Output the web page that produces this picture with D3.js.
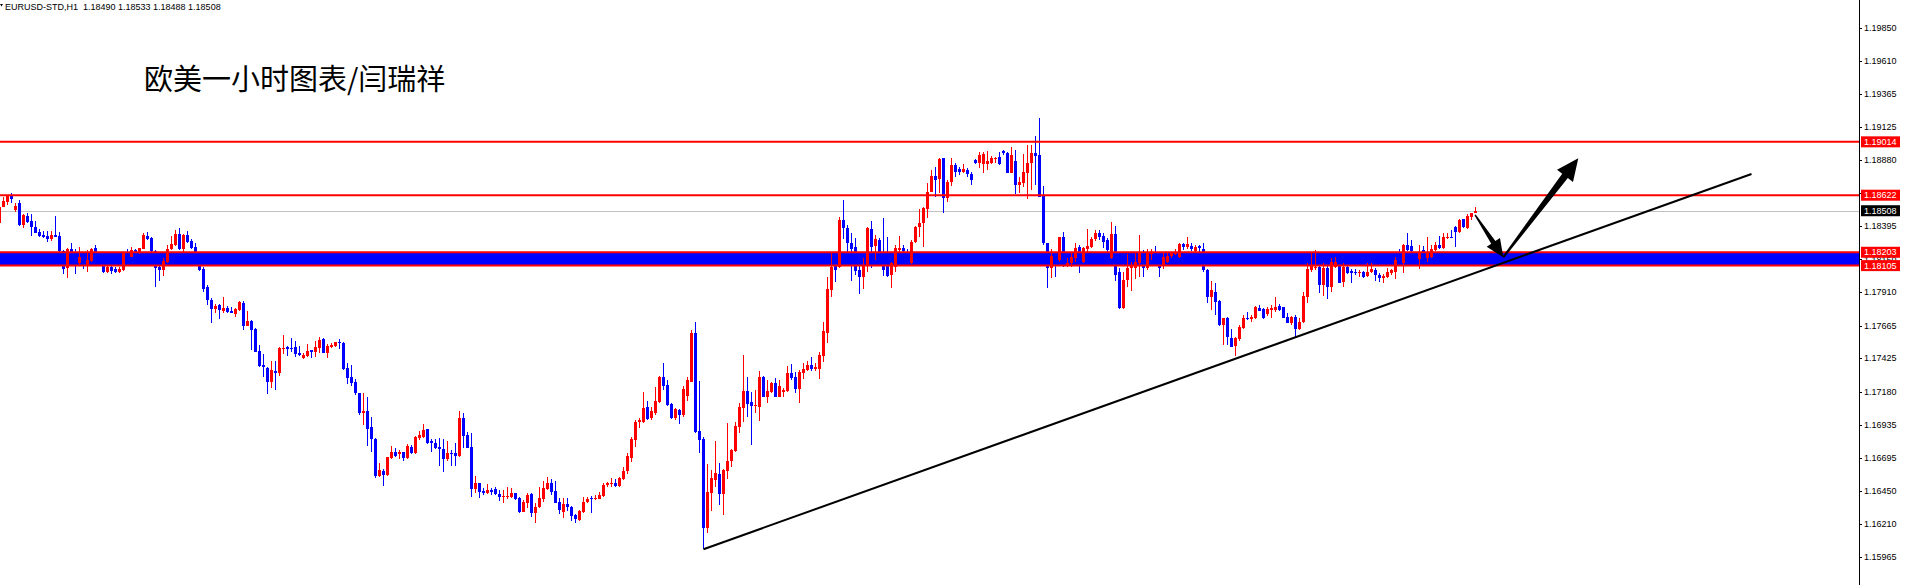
<!DOCTYPE html>
<html><head><meta charset="utf-8">
<script src="https://cdn.jsdelivr.net/npm/d3@7"></script>
<style>html,body{margin:0;padding:0;background:#fff;overflow:hidden}</style>
</head><body><svg id="c" width="1906" height="585"></svg>
<script>
const symbolInfo = "EURUSD-STD,H1";
const headerOHLC = ["1.18490", "1.18533", "1.18488", "1.18508"];
const titleText = "欧美一小时图表/闫瑞祥";
const tickLabels = ["1.19850","1.19610","1.19365","1.19125","1.18880","1.18640","1.18395","1.18150","1.17910","1.17665","1.17425","1.17180","1.16935","1.16695","1.16450","1.16210","1.15965"];
const resistanceLevels = [1.19014, 1.18622];
const zoneLevels = [1.18203, 1.18105];
const bidPrice = 1.18508;
const trendLine = [{i: 176, p: 1.16022}, {i: 438, p: 1.18778}];
const arrowDown = [{i: 368.9, p: 1.18477}, {i: 375.95, p: 1.18166}];
const arrowUp = [{i: 375.95, p: 1.18166}, {i: 394.7, p: 1.18893}];

const open = [
1.18420,1.18538,1.18575,1.18616,1.18513,1.18567,1.18403,1.18469,1.18433,1.18386,
1.18352,1.18330,1.18322,1.18300,1.18330,1.18322,1.18212,1.18090,1.18224,1.18171,
1.18122,1.18158,1.18105,1.18141,1.18232,1.18171,1.18109,1.18056,1.18092,1.18078,
1.18058,1.18073,1.18207,1.18171,1.18220,1.18195,1.18229,1.18322,1.18308,1.18212,
1.18092,1.18073,1.18129,1.18224,1.18256,1.18337,1.18227,1.18330,1.18288,1.18242,
1.18195,1.18083,1.17950,1.17852,1.17786,1.17813,1.17772,1.17794,1.17772,1.17750,
1.17781,1.17833,1.17664,1.17698,1.17639,1.17478,1.17375,1.17355,1.17253,1.17333,
1.17319,1.17495,1.17510,1.17500,1.17507,1.17463,1.17426,1.17444,1.17483,1.17471,
1.17502,1.17566,1.17466,1.17510,1.17515,1.17544,1.17539,1.17355,1.17289,1.17250,
1.17167,1.17022,1.17037,1.16922,1.16834,1.16562,1.16597,1.16567,1.16690,1.16736,
1.16721,1.16736,1.16690,1.16775,1.16731,1.16836,1.16849,1.16903,1.16814,1.16805,
1.16773,1.16758,1.16682,1.16729,1.16731,1.16709,1.16988,1.16861,1.16775,1.16462,
1.16506,1.16450,1.16433,1.16457,1.16465,1.16428,1.16408,1.16408,1.16403,1.16433,
1.16396,1.16298,1.16360,1.16426,1.16291,1.16330,1.16394,1.16465,1.16506,1.16450,
1.16369,1.16298,1.16352,1.16335,1.16274,1.16237,1.16298,1.16372,1.16399,1.16389,
1.16394,1.16413,1.16494,1.16502,1.16506,1.16487,1.16538,1.16597,1.16695,1.16825,
1.16959,1.16959,1.17069,1.16984,1.17025,1.17106,1.17290,1.17228,1.17089,1.16984,
1.17045,1.17008,1.17150,1.17253,1.17608,1.16893,1.16830,1.16176,1.16433,1.16531,
1.16575,1.16428,1.16599,1.16670,1.16744,1.16918,1.17062,1.17185,1.17101,1.17077,
1.17069,1.17290,1.17143,1.17177,1.17241,1.17143,1.17180,1.17187,1.17314,1.17290,
1.17199,1.17314,1.17339,1.17375,1.17344,1.17344,1.17442,1.17613,1.17926,1.18147,
1.18098,1.18440,1.18379,1.18274,1.18244,1.18073,1.18024,1.18110,1.18372,1.18249,
1.18293,1.18196,1.18110,1.18036,1.18098,1.18220,1.18232,1.18208,1.18122,1.18281,
1.18391,1.18416,1.18519,1.18648,1.18763,1.18739,1.18893,1.18599,1.18717,1.18844,
1.18815,1.18795,1.18808,1.18778,1.18879,1.18861,1.18852,1.18852,1.18861,1.18886,
1.18901,1.18950,1.18930,1.18788,1.18876,1.18697,1.18714,1.18783,1.18856,1.18935,
1.18918,1.18616,1.18269,1.18085,1.18159,1.18147,1.18318,1.18110,1.18122,1.18159,
1.18244,1.18134,1.18225,1.18244,1.18298,1.18342,1.18323,1.18293,1.18159,1.18337,
1.18061,1.17792,1.18000,1.18085,1.18085,1.18122,1.18134,1.18085,1.18191,1.18171,
1.18110,1.18110,1.18134,1.18178,1.18191,1.18166,1.18264,1.18240,1.18249,1.18215,
1.18249,1.18225,1.18073,1.17877,1.17914,1.17845,1.17669,1.17718,1.17571,1.17515,
1.17564,1.17645,1.17723,1.17711,1.17718,1.17796,1.17787,1.17748,1.17779,1.17779,
1.17811,1.17799,1.17725,1.17686,1.17730,1.17637,1.17694,1.17877,1.18073,1.18085,
1.18098,1.17963,1.18085,1.17951,1.18098,1.18122,1.17987,1.18098,1.18066,1.18061,
1.18049,1.18061,1.18029,1.18061,1.18073,1.18036,1.18012,1.18024,1.18054,1.18061,
1.18208,1.18122,1.18257,1.18250,1.18196,1.18152,1.18220,1.18159,1.18171,1.18220,
1.18257,1.18233,1.18313,1.18318,1.18392,1.18355,1.18446,1.18379,1.18465,1.18490];

const high = [
1.18550,1.18611,1.18623,1.18641,1.18562,1.18587,1.18482,1.18494,1.18484,1.18435,
1.18371,1.18359,1.18359,1.18359,1.18469,1.18352,1.18220,1.18232,1.18269,1.18227,
1.18242,1.18183,1.18220,1.18237,1.18256,1.18195,1.18134,1.18109,1.18109,1.18097,
1.18097,1.18207,1.18224,1.18244,1.18229,1.18237,1.18342,1.18354,1.18313,1.18220,
1.18109,1.18158,1.18256,1.18322,1.18367,1.18381,1.18337,1.18362,1.18298,1.18269,
1.18207,1.18097,1.17963,1.17865,1.17823,1.17823,1.17874,1.17808,1.17803,1.17794,
1.17845,1.17848,1.17772,1.17706,1.17644,1.17522,1.17456,1.17363,1.17407,1.17407,
1.17510,1.17595,1.17515,1.17576,1.17551,1.17515,1.17461,1.17529,1.17485,1.17554,
1.17578,1.17576,1.17527,1.17539,1.17546,1.17564,1.17546,1.17392,1.17375,1.17270,
1.17172,1.17167,1.17142,1.16996,1.16841,1.16653,1.16611,1.16702,1.16780,1.16768,
1.16751,1.16739,1.16792,1.16787,1.16856,1.16893,1.16942,1.16907,1.16829,1.16829,
1.16841,1.16834,1.16817,1.16751,1.16800,1.17037,1.17025,1.16885,1.16878,1.16560,
1.16511,1.16470,1.16499,1.16474,1.16482,1.16457,1.16457,1.16477,1.16470,1.16438,
1.16403,1.16384,1.16433,1.16433,1.16360,1.16482,1.16526,1.16550,1.16536,1.16526,
1.16396,1.16396,1.16396,1.16340,1.16281,1.16311,1.16403,1.16403,1.16413,1.16421,
1.16445,1.16511,1.16519,1.16543,1.16536,1.16555,1.16624,1.16727,1.16849,1.16972,
1.16984,1.17180,1.17114,1.17069,1.17216,1.17295,1.17388,1.17265,1.17094,1.17057,
1.17052,1.17224,1.17290,1.17632,1.17689,1.17258,1.16849,1.16646,1.16604,1.16817,
1.16653,1.16612,1.16952,1.16759,1.16959,1.17094,1.17449,1.17285,1.17180,1.17192,
1.17331,1.17295,1.17265,1.17253,1.17277,1.17265,1.17209,1.17368,1.17383,1.17326,
1.17339,1.17392,1.17407,1.17437,1.17388,1.17473,1.17694,1.18019,1.18196,1.18171,
1.18465,1.18587,1.18404,1.18342,1.18310,1.18122,1.18159,1.18391,1.18435,1.18330,
1.18306,1.18457,1.18318,1.18134,1.18257,1.18325,1.18257,1.18225,1.18293,1.18396,
1.18521,1.18533,1.18715,1.18808,1.18827,1.18898,1.18898,1.18734,1.18893,1.18861,
1.18832,1.18852,1.18825,1.18795,1.18886,1.18937,1.18942,1.18947,1.18910,1.18905,
1.18937,1.18954,1.18942,1.18979,1.18954,1.18754,1.18923,1.18991,1.18991,1.19060,
1.19187,1.18690,1.18274,1.18225,1.18196,1.18318,1.18355,1.18159,1.18200,1.18269,
1.18257,1.18244,1.18372,1.18318,1.18367,1.18367,1.18347,1.18306,1.18423,1.18396,
1.18085,1.18061,1.18191,1.18134,1.18196,1.18330,1.18220,1.18227,1.18227,1.18249,
1.18147,1.18196,1.18196,1.18200,1.18225,1.18274,1.18274,1.18318,1.18274,1.18257,
1.18257,1.18269,1.18078,1.17992,1.17975,1.17853,1.17723,1.17725,1.17637,1.17583,
1.17669,1.17743,1.17767,1.17743,1.17809,1.17816,1.17792,1.17799,1.17816,1.17872,
1.17823,1.17804,1.17755,1.17738,1.17743,1.17723,1.17914,1.18122,1.18196,1.18220,
1.18122,1.18122,1.18127,1.18159,1.18171,1.18147,1.18127,1.18110,1.18078,1.18080,
1.18073,1.18068,1.18122,1.18122,1.18085,1.18049,1.18044,1.18085,1.18078,1.18171,
1.18225,1.18264,1.18343,1.18294,1.18208,1.18257,1.18250,1.18313,1.18257,1.18282,
1.18323,1.18348,1.18343,1.18367,1.18397,1.18446,1.18450,1.18485,1.18495,1.18533];

const low = [
1.18415,1.18533,1.18550,1.18567,1.18499,1.18396,1.18384,1.18420,1.18322,1.18342,
1.18313,1.18308,1.18281,1.18288,1.18313,1.18207,1.18043,1.18014,1.18146,1.18043,
1.18102,1.18080,1.18060,1.18134,1.18158,1.18109,1.18053,1.18048,1.18043,1.18053,
1.18053,1.18065,1.18171,1.18166,1.18195,1.18190,1.18224,1.18293,1.18205,1.17950,
1.17994,1.18031,1.18122,1.18220,1.18249,1.18220,1.18195,1.18273,1.18224,1.18183,
1.18068,1.17914,1.17816,1.17686,1.17759,1.17715,1.17759,1.17759,1.17755,1.17730,
1.17774,1.17632,1.17661,1.17485,1.17468,1.17358,1.17289,1.17162,1.17204,1.17191,
1.17297,1.17453,1.17444,1.17471,1.17436,1.17441,1.17417,1.17431,1.17426,1.17431,
1.17466,1.17461,1.17429,1.17497,1.17510,1.17493,1.17338,1.17235,1.17221,1.17155,
1.17008,1.16934,1.16783,1.16739,1.16543,1.16555,1.16489,1.16560,1.16682,1.16697,
1.16682,1.16673,1.16682,1.16721,1.16721,1.16824,1.16836,1.16795,1.16739,1.16756,
1.16636,1.16592,1.16673,1.16636,1.16636,1.16697,1.16763,1.16763,1.16408,1.16437,
1.16396,1.16421,1.16428,1.16421,1.16421,1.16379,1.16364,1.16389,1.16396,1.16384,
1.16291,1.16293,1.16328,1.16262,1.16218,1.16323,1.16372,1.16457,1.16421,1.16360,
1.16281,1.16249,1.16306,1.16232,1.16218,1.16232,1.16291,1.16364,1.16291,1.16384,
1.16389,1.16403,1.16482,1.16482,1.16482,1.16482,1.16531,1.16575,1.16661,1.16776,
1.16910,1.16952,1.16972,1.16972,1.17008,1.17094,1.17192,1.17074,1.16980,1.16972,
1.16942,1.16996,1.17114,1.17248,1.16874,1.16732,1.16022,1.16144,1.16306,1.16482,
1.16347,1.16274,1.16538,1.16624,1.16739,1.16874,1.16959,1.16991,1.16788,1.17020,
1.16964,1.17138,1.17094,1.17167,1.17138,1.17138,1.17143,1.17180,1.17265,1.17172,
1.17099,1.17270,1.17334,1.17334,1.17334,1.17270,1.17400,1.17535,1.17877,1.17987,
1.18085,1.18298,1.18208,1.17995,1.18034,1.17897,1.17934,1.18061,1.18085,1.18147,
1.18171,1.18031,1.18024,1.17943,1.18061,1.18196,1.18183,1.18159,1.18115,1.18269,
1.18318,1.18244,1.18453,1.18644,1.18607,1.18636,1.18494,1.18575,1.18692,1.18754,
1.18771,1.18783,1.18754,1.18697,1.18852,1.18820,1.18783,1.18808,1.18852,1.18861,
1.18844,1.18918,1.18783,1.18783,1.18631,1.18636,1.18685,1.18592,1.18661,1.18697,
1.18607,1.18257,1.17943,1.18017,1.18019,1.18134,1.18098,1.18098,1.18093,1.18134,
1.18053,1.18127,1.18208,1.18232,1.18288,1.18293,1.18232,1.18196,1.18151,1.17995,
1.17785,1.17785,1.17951,1.17921,1.18004,1.18024,1.18019,1.18073,1.18147,1.18155,
1.18019,1.18078,1.18122,1.18159,1.18183,1.18159,1.18220,1.18225,1.18215,1.18208,
1.18208,1.18061,1.17828,1.17779,1.17743,1.17662,1.17522,1.17522,1.17505,1.17444,
1.17554,1.17637,1.17706,1.17694,1.17713,1.17772,1.17711,1.17735,1.17718,1.17767,
1.17774,1.17718,1.17681,1.17669,1.17571,1.17632,1.17681,1.17828,1.18061,1.18073,
1.17902,1.17885,1.17860,1.17914,1.18085,1.17975,1.17951,1.18044,1.17980,1.18036,
1.18019,1.18017,1.18024,1.18049,1.17995,1.17987,1.17980,1.18012,1.18037,1.18005,
1.18103,1.18054,1.18215,1.18208,1.18147,1.18078,1.18196,1.18135,1.18159,1.18215,
1.18228,1.18225,1.18299,1.18306,1.18245,1.18348,1.18379,1.18372,1.18441,1.18488];

const close = [
1.18538,1.18579,1.18616,1.18594,1.18545,1.18403,1.18477,1.18428,1.18386,1.18347,
1.18322,1.18315,1.18300,1.18330,1.18317,1.18212,1.18083,1.18227,1.18171,1.18109,
1.18166,1.18102,1.18146,1.18224,1.18171,1.18122,1.18060,1.18092,1.18068,1.18060,
1.18080,1.18200,1.18183,1.18220,1.18205,1.18232,1.18330,1.18298,1.18210,1.18085,
1.18073,1.18139,1.18227,1.18264,1.18337,1.18227,1.18330,1.18281,1.18232,1.18195,
1.18073,1.17936,1.17852,1.17786,1.17811,1.17779,1.17791,1.17767,1.17759,1.17784,
1.17835,1.17661,1.17698,1.17632,1.17473,1.17368,1.17358,1.17253,1.17338,1.17319,
1.17500,1.17500,1.17495,1.17490,1.17456,1.17449,1.17451,1.17478,1.17473,1.17507,
1.17559,1.17466,1.17517,1.17522,1.17542,1.17534,1.17346,1.17277,1.17245,1.17167,
1.17025,1.17037,1.16905,1.16832,1.16562,1.16604,1.16567,1.16697,1.16739,1.16707,
1.16739,1.16690,1.16783,1.16731,1.16844,1.16861,1.16898,1.16802,1.16800,1.16768,
1.16756,1.16682,1.16726,1.16719,1.16709,1.16986,1.16856,1.16768,1.16462,1.16511,
1.16445,1.16433,1.16457,1.16445,1.16426,1.16408,1.16413,1.16413,1.16433,1.16389,
1.16296,1.16367,1.16421,1.16291,1.16330,1.16401,1.16470,1.16511,1.16440,1.16364,
1.16311,1.16355,1.16330,1.16267,1.16242,1.16303,1.16372,1.16389,1.16389,1.16401,
1.16421,1.16494,1.16506,1.16506,1.16487,1.16543,1.16599,1.16710,1.16830,1.16959,
1.16972,1.17057,1.16976,1.17040,1.17111,1.17290,1.17224,1.17082,1.16984,1.17050,
1.17008,1.17199,1.17265,1.17608,1.16881,1.16825,1.16176,1.16440,1.16543,1.16580,
1.16428,1.16604,1.16670,1.16751,1.16927,1.17069,1.17185,1.17089,1.17077,1.17084,
1.17290,1.17143,1.17185,1.17246,1.17143,1.17221,1.17192,1.17314,1.17277,1.17199,
1.17326,1.17344,1.17375,1.17344,1.17358,1.17449,1.17625,1.17934,1.18098,1.18073,
1.18440,1.18379,1.18269,1.18225,1.18068,1.18024,1.18110,1.18379,1.18244,1.18301,
1.18196,1.18073,1.18031,1.18122,1.18232,1.18232,1.18215,1.18183,1.18281,1.18391,
1.18416,1.18526,1.18644,1.18763,1.18734,1.18888,1.18599,1.18717,1.18844,1.18795,
1.18795,1.18812,1.18776,1.18734,1.18861,1.18918,1.18923,1.18876,1.18893,1.18898,
1.18852,1.18935,1.18788,1.18918,1.18697,1.18722,1.18790,1.18861,1.18930,1.18910,
1.18612,1.18269,1.18085,1.18178,1.18110,1.18313,1.18196,1.18122,1.18166,1.18232,
1.18196,1.18232,1.18249,1.18301,1.18342,1.18318,1.18281,1.18220,1.18337,1.18036,
1.17792,1.18000,1.18085,1.18102,1.18134,1.18200,1.18085,1.18196,1.18208,1.18159,
1.18085,1.18171,1.18178,1.18196,1.18200,1.18264,1.18240,1.18264,1.18225,1.18244,
1.18232,1.18073,1.17877,1.17926,1.17840,1.17669,1.17718,1.17579,1.17510,1.17571,
1.17652,1.17718,1.17713,1.17730,1.17799,1.17774,1.17718,1.17787,1.17792,1.17804,
1.17779,1.17723,1.17686,1.17730,1.17640,1.17689,1.17882,1.18078,1.18110,1.18098,
1.17963,1.18085,1.17951,1.18134,1.18134,1.17980,1.18098,1.18049,1.18049,1.18049,
1.18061,1.18024,1.18061,1.18080,1.18036,1.18012,1.18029,1.18061,1.18073,1.18147,
1.18171,1.18257,1.18220,1.18215,1.18159,1.18201,1.18201,1.18201,1.18225,1.18257,
1.18233,1.18318,1.18318,1.18313,1.18355,1.18441,1.18387,1.18470,1.18490,1.18508];

const UP = "#ff0000", DOWN = "#0000ff";
const W = 1906, H = 585, AXIS_X = 1859;
const svg = d3.select("#c");
const n = close.length;
const x = d3.scaleLinear().domain([0, n - 1]).range([-0.5, -0.5 + 4 * (n - 1)]);
const y = d3.scaleLinear().domain([1.15965, 1.19850]).range([557, 28]);
const FONT = "'Liberation Sans', Arial, sans-serif";

svg.append("rect").attr("width", W).attr("height", H).attr("fill", "#fff");

// zone (background)
svg.append("rect").attr("x", 0).attr("width", AXIS_X)
  .attr("y", y(zoneLevels[0])).attr("height", y(zoneLevels[1]) - y(zoneLevels[0]))
  .attr("fill", DOWN);

// bid line
svg.append("line").attr("x1", 0).attr("x2", AXIS_X)
  .attr("y1", Math.round(y(bidPrice)) + 0.5).attr("y2", Math.round(y(bidPrice)) + 0.5)
  .attr("stroke", "#c0c0c0").attr("stroke-width", 1);

// candles
const idx = d3.range(n);
const g = svg.append("g").attr("shape-rendering", "crispEdges");
g.selectAll(".wick").data(idx).join("rect")
  .attr("x", i => x(i) - 0.5).attr("width", 1)
  .attr("y", i => y(high[i])).attr("height", i => Math.max(1, y(low[i]) - y(high[i])))
  .attr("fill", i => close[i] >= open[i] ? UP : DOWN);
g.selectAll(".body").data(idx).join("rect")
  .attr("x", i => x(i) - 1.5).attr("width", 3)
  .attr("y", i => y(Math.max(open[i], close[i])))
  .attr("height", i => Math.max(1, Math.abs(y(open[i]) - y(close[i]))))
  .attr("fill", i => close[i] >= open[i] ? UP : DOWN);

// red level lines
[...resistanceLevels, ...zoneLevels].forEach(p => {
  svg.append("line").attr("x1", 0).attr("x2", AXIS_X)
    .attr("y1", y(p)).attr("y2", y(p))
    .attr("stroke", UP).attr("stroke-width", 2);
});

// trend line
svg.append("line")
  .attr("x1", x(trendLine[0].i)).attr("y1", y(trendLine[0].p))
  .attr("x2", x(trendLine[1].i)).attr("y2", y(trendLine[1].p))
  .attr("stroke", "#000").attr("stroke-width", 2);

// arrows
function arrowPoly(a, b, w0, w1, headLen, headHalf) {
  const p0 = [x(a.i), y(a.p)], p1 = [x(b.i), y(b.p)];
  const dx = p1[0] - p0[0], dy = p1[1] - p0[1], L = Math.hypot(dx, dy);
  const u = [dx / L, dy / L], nn = [-u[1], u[0]];
  const base = [p1[0] - u[0] * headLen, p1[1] - u[1] * headLen];
  const pt = (p, k) => [p[0] + nn[0] * k, p[1] + nn[1] * k];
  return [pt(p0, w0 / 2), pt(base, w1 / 2), pt(base, headHalf), p1,
          pt(base, -headHalf), pt(base, -w1 / 2), pt(p0, -w0 / 2)];
}
svg.append("polygon").attr("points", arrowPoly(arrowDown[0], arrowDown[1], 1.5, 5, 18, 8).map(d => d.join(",")).join(" ")).attr("fill", "#000");
svg.append("polygon").attr("points", arrowPoly(arrowUp[0], arrowUp[1], 2, 7, 22, 10).map(d => d.join(",")).join(" ")).attr("fill", "#000");

// price axis
svg.append("line").attr("x1", AXIS_X + 0.5).attr("x2", AXIS_X + 0.5).attr("y1", 0).attr("y2", H)
  .attr("stroke", "#000").attr("stroke-width", 1);
const ax = svg.append("g");
tickLabels.forEach(t => {
  const v = +t, yy = Math.round(y(v)) + 0.5;
  ax.append("line").attr("x1", AXIS_X).attr("x2", AXIS_X + 3).attr("y1", yy).attr("y2", yy)
    .attr("stroke", "#000").attr("stroke-width", 1);
  ax.append("text").attr("x", AXIS_X + 5).attr("y", y(v)).attr("dy", "0.35em")
    .attr("font-family", FONT).attr("font-size", 9).attr("fill", "#000").text(t);
});

// price tags
function tag(p, fill) {
  const yy = y(p);
  svg.append("rect").attr("x", AXIS_X + 2).attr("y", yy - 5.5).attr("width", 39).attr("height", 11).attr("fill", fill);
  svg.append("text").attr("x", AXIS_X + 5).attr("y", yy).attr("dy", "0.35em")
    .attr("font-family", FONT).attr("font-size", 9).attr("fill", "#fff").text(p.toFixed(5));
}
resistanceLevels.forEach(p => tag(p, UP));
tag(bidPrice, "#000");
zoneLevels.forEach(p => tag(p, UP));

// header
svg.append("path").attr("d", "M0,4 L3,4 L1.5,6.5 Z").attr("fill", "#000");
svg.append("text").attr("x", 5).attr("y", 7).attr("dy", "0.35em")
  .attr("font-family", FONT).attr("font-size", 9).attr("fill", "#000")
  .style("white-space", "pre")
  .text(symbolInfo + "  " + headerOHLC.join(" "));

// title
svg.append("text").attr("x", 144).attr("y", 89.5)
  .attr("font-family", "'Noto Sans CJK SC', sans-serif").attr("font-size", 29).attr("fill", "#000")
  .text(titleText);
</script>
</body></html>
